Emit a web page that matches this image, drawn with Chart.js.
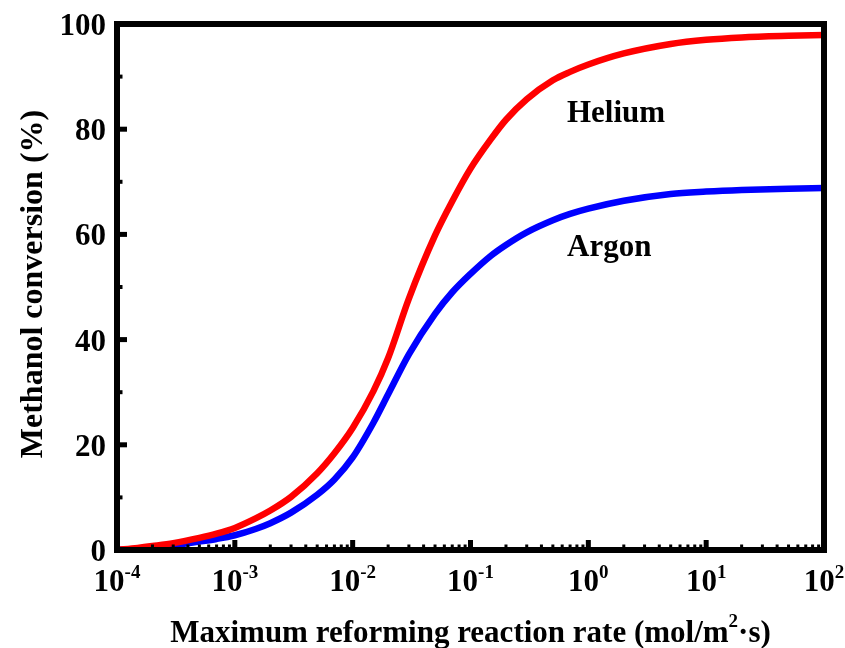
<!DOCTYPE html>
<html>
<head>
<meta charset="utf-8">
<title>Methanol conversion</title>
<script src="https://cdn.jsdelivr.net/npm/chart.js@4"></script>
<style>
  html, body { margin: 0; padding: 0; background: #fff; }
  canvas { display: block; }
</style>
</head>
<body>
<canvas id="myChart" width="845" height="648"></canvas>
<script>
// reaction rate (mol/m2.s)
const rates = [1e-4, 1.5e-4, 2e-4, 3e-4, 5e-4, 7e-4,
  1e-3, 1.5e-3, 2e-3, 3e-3, 5e-3, 7e-3,
  1e-2, 1.5e-2, 2e-2, 3e-2, 5e-2, 7e-2,
  1e-1, 1.5e-1, 2e-1, 3e-1, 5e-1, 7e-1,
  1, 2, 5, 10, 20, 50, 100];

// methanol conversion (%)
const helium = [0, 0.4, 0.75, 1.3, 2.3, 3.1,
  4.2, 6.0, 7.5, 10.1, 14.6, 18.4,
  23.2, 30.2, 36.5, 47.8, 59.8, 66.3,
  72.5, 78.2, 81.8, 85.7, 89.3, 90.9,
  92.3, 94.4, 96.2, 97.0, 97.45, 97.75, 97.9];
const argon = [0, 0.25, 0.5, 0.9, 1.6, 2.1,
  2.8, 4.0, 5.1, 7.1, 10.5, 13.4,
  17.6, 24.2, 29.6, 37.2, 44.9, 49.0,
  52.5, 56.0, 58.0, 60.4, 62.7, 63.9,
  64.9, 66.4, 67.7, 68.15, 68.45, 68.7, 68.8];

const xExponents = [-4, -3, -2, -1, 0, 1, 2];
const yTicks = [0, 20, 40, 60, 80, 100];
const yMinorTicks = [10, 30, 50, 70, 90];

const FAMILY = '"Liberation Serif", "Times New Roman", serif';
const FONT = 'bold 31px ' + FAMILY;
const TITLE_FONT = 'bold 32px ' + FAMILY;
const SUP_FONT = 'bold 19px ' + FAMILY;

function toPoints(ys) {
  return rates.map((x, i) => ({ x: x, y: ys[i] }));
}

// frame, inward ticks, tick labels, titles and curve names
const framePlugin = {
  id: 'frame',
  afterDraw(chart) {
    const ctx = chart.ctx;
    const a = chart.chartArea;
    const xs = chart.scales.x;
    const ys = chart.scales.y;
    ctx.save();
    ctx.fillStyle = '#000';
    ctx.strokeStyle = '#000';

    // x ticks: decades and 2..9
    for (let e = -4; e <= 2; e++) {
      const px = xs.getPixelForValue(Math.pow(10, e));
      ctx.fillRect(px - 2.5, a.bottom - 10, 5, 10);
      if (e < 2) {
        for (let m = 2; m <= 9; m++) {
          const pm = xs.getPixelForValue(m * Math.pow(10, e));
          ctx.fillRect(pm - 1.5, a.bottom - 5.5, 3, 5.5);
        }
      }
    }
    // y ticks
    yTicks.forEach(v => {
      const py = ys.getPixelForValue(v);
      ctx.fillRect(a.left, py - 2.5, 10, 5);
    });
    yMinorTicks.forEach(v => {
      const py = ys.getPixelForValue(v);
      ctx.fillRect(a.left, py - 2, 5.5, 4);
    });

    // frame
    ctx.lineWidth = 6;
    ctx.strokeRect(a.left, a.top, a.right - a.left, a.bottom - a.top);

    // y tick labels
    ctx.font = FONT;
    ctx.textAlign = 'right';
    ctx.textBaseline = 'alphabetic';
    yTicks.forEach(v => {
      ctx.fillText(String(v), 106, ys.getPixelForValue(v) + 11);
    });

    // x tick labels as 10 with a superscript exponent
    ctx.textAlign = 'left';
    xExponents.forEach(e => {
      const px = xs.getPixelForValue(Math.pow(10, e));
      const exp = e < 0 ? '-' + Math.abs(e) : String(e);
      ctx.font = FONT;
      const w1 = ctx.measureText('10').width;
      ctx.font = SUP_FONT;
      const w2 = ctx.measureText(exp).width;
      const x0 = px - (w1 + w2) / 2;
      ctx.font = FONT;
      ctx.fillText('10', x0, 591);
      ctx.font = SUP_FONT;
      ctx.fillText(exp, x0 + w1, 578);
    });

    // x title with m^2
    const t1 = 'Maximum reforming reaction rate (mol/m';
    const t2 = '2';
    const t3 = '\u00b7s)';
    ctx.font = FONT;
    const w1 = ctx.measureText(t1).width;
    const w3 = ctx.measureText(t3).width;
    ctx.font = SUP_FONT;
    const w2 = ctx.measureText(t2).width;
    const tx = (a.left + a.right) / 2 - (w1 + w2 + w3) / 2;
    ctx.font = FONT;
    ctx.fillText(t1, tx, 642);
    ctx.font = SUP_FONT;
    ctx.fillText(t2, tx + w1, 627);
    ctx.font = FONT;
    ctx.fillText(t3, tx + w1 + w2, 642);

    // y title
    ctx.save();
    ctx.translate(42, (a.top + a.bottom) / 2 - 3);
    ctx.rotate(-Math.PI / 2);
    ctx.textAlign = 'center';
    ctx.font = TITLE_FONT;
    ctx.fillText('Methanol conversion (%)', 0, 0);
    ctx.restore();

    // curve names
    ctx.textAlign = 'left';
    ctx.font = FONT;
    ctx.fillText('Helium', 567, 122);
    ctx.fillText('Argon', 567, 256);

    ctx.restore();
  }
};

function initChart(target) {
  return new Chart(target, {
    type: 'line',
    data: {
      datasets: [
        {
          label: 'Helium',
          data: toPoints(helium),
          borderColor: '#ff0000',
          borderWidth: 6.5,
          pointRadius: 0,
          cubicInterpolationMode: 'monotone',
          fill: false
        },
        {
          label: 'Argon',
          data: toPoints(argon),
          borderColor: '#0000ff',
          borderWidth: 6.5,
          pointRadius: 0,
          cubicInterpolationMode: 'monotone',
          fill: false
        }
      ]
    },
    options: {
      responsive: false,
      animation: false,
      devicePixelRatio: 1,
      layout: { padding: { left: 117, right: 21, top: 24, bottom: 98 } },
      plugins: { legend: { display: false }, tooltip: { enabled: false } },
      scales: {
        x: { type: 'logarithmic', min: 1e-4, max: 100, display: false },
        y: { type: 'linear', min: 0, max: 100, display: false }
      }
    },
    plugins: [framePlugin]
  });
}

document.addEventListener('DOMContentLoaded', () => {
  initChart(document.querySelector('#myChart'));
});
</script>
</body>
</html>
